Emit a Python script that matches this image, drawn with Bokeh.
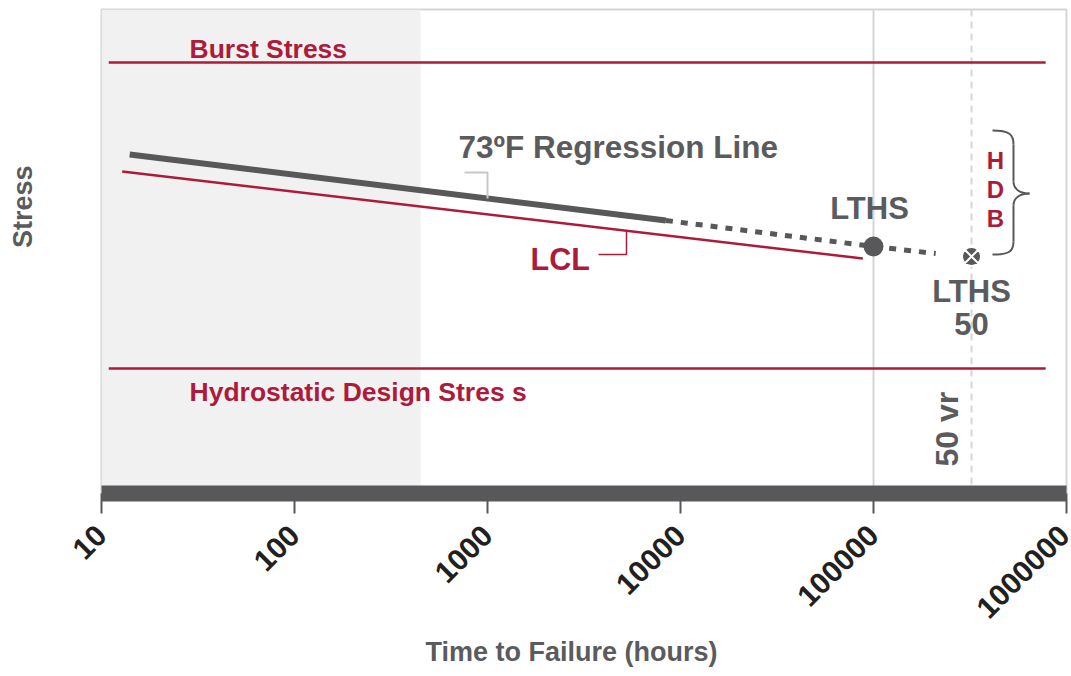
import math
import numpy as np
from bokeh.plotting import figure
from bokeh.models import (Range1d, FixedTicker, NumeralTickFormatter, CustomJSTickFormatter,
                          BoxAnnotation, Span, Label, Title)
from bokeh.embed import file_html
from bokeh.resources import INLINE

# ---------------- data ----------------
tick_hours = [10, 100, 1000, 10000, 100000, 1000000]

reg_hours = [14, 8400]            # 73F regression line (measured range)
reg_stress = [33.9, 27.3]
ext_hours = [8400, 100000, 210000]  # extrapolation
ext_stress = [27.3, 24.7, 24.0]
lcl_hours = [12.8, 88000]         # lower confidence limit
lcl_stress = [32.2, 23.5]
ref_hours = [10.9, 780000]        # extent of the reference stress lines
burst_stress = 43.1
hds_stress = 12.5
lths_hours = 100000
lths_stress = 24.7
lths50_hours = 322000
lths50_stress = 23.7
short_term_end = 450
year50_hours = 322000

# ---------------- styling ----------------
RED = "#ad1b3b"
DARK = "#58585a"
TEXTG = "#5b5b5d"
LIGHT = "#d3d6d6"
FONT = "Liberation Sans"

# helpers to place decorations (page pixel -> data)
def hx(px):
    return 10 ** (1 + (px - 101) / 193.0)

def sy(py):
    return (493 - py) / 10.0

p = figure(width=1071, height=676, x_axis_type="log",
           x_range=Range1d(10, 1e6), y_range=Range1d(0, 48.4),
           output_backend="svg", toolbar_location=None,
           min_border_left=101, min_border_right=5, min_border_top=9, min_border_bottom=183)
p.xgrid.visible = False
p.ygrid.visible = False
p.outline_line_color = LIGHT
p.outline_line_width = 2
p.background_fill_color = "white"
p.border_fill_color = "white"

# y axis: one invisible tick with an empty label, only reserves space so the title sits far left
yax = p.yaxis[0]
yax.ticker = FixedTicker(ticks=[1], minor_ticks=[])
yax.formatter = CustomJSTickFormatter(code="return ''")
yax.axis_line_color = None
yax.major_tick_line_color = "white"
yax.major_tick_line_alpha = 0
yax.minor_tick_line_color = None
yax.major_tick_in = 0
yax.major_tick_out = 60
yax.major_label_standoff = 0
yax.major_label_text_font_size = "1px"

ax = p.xaxis[0]
ax.ticker = FixedTicker(ticks=tick_hours, minor_ticks=[])
ax.formatter = NumeralTickFormatter(format="0")
ax.axis_line_color = DARK
ax.axis_line_width = 16
ax.major_tick_line_color = DARK
ax.major_tick_line_width = 2
ax.major_tick_in = 0
ax.major_tick_out = 20
ax.minor_tick_line_color = None
ax.major_label_orientation = math.pi / 4
ax.major_label_standoff = 17
ax.major_label_text_font = FONT
ax.major_label_text_font_style = "bold"
ax.major_label_text_font_size = "30px"
ax.major_label_text_color = "#231f20"

# axis titles
stress_title = Title(text="Stress", align="right", offset=156, vertical_align="top", standoff=4,
                     text_font=FONT, text_font_style="bold", text_font_size="27px",
                     text_color=TEXTG)
p.left = [yax, stress_title]
p.add_layout(Title(text="Time to Failure (hours)", align="left", offset=324, standoff=8, text_font=FONT,
                   text_font_style="bold", text_font_size="27px", text_color=TEXTG), "below")

# shaded short-term region
p.add_layout(BoxAnnotation(left=10, right=short_term_end, fill_color="#f1f1f1", fill_alpha=1,
                           line_color=None, level="underlay"))
p.add_layout(Span(location=lths_hours, dimension="height", line_color=LIGHT, line_width=2, level="underlay"))
p.add_layout(Span(location=year50_hours, dimension="height", line_color=LIGHT, line_width=2,
                  line_dash="7 5", level="underlay"))

# reference stress lines
p.line(ref_hours, [burst_stress, burst_stress], line_color=RED, line_width=2.5)
p.line(ref_hours, [hds_stress, hds_stress], line_color=RED, line_width=2.5)

# regression and LCL
p.line(lcl_hours, lcl_stress, line_color=RED, line_width=2.5)
p.line(reg_hours, reg_stress, line_color=DARK, line_width=6)
p.line(ext_hours, ext_stress, line_color=DARK, line_width=5, line_dash="7 8")

# leaders
def interp_log(h, xs, ys):
    return float(np.interp(math.log10(h), np.log10(xs), ys))

lead_h = 1000
lead_y = interp_log(lead_h, reg_hours, reg_stress)
p.line([lead_h * 10 ** (-23 / 193.0), lead_h, lead_h], [lead_y + 2.6, lead_y + 2.6, lead_y],
       line_color="#c8c8c8", line_width=2)
lcl_lead_h = 5250
lcl_lead_y = interp_log(lcl_lead_h, lcl_hours, lcl_stress)
p.line([lcl_lead_h, lcl_lead_h, lcl_lead_h * 10 ** (-28 / 193.0)],
       [lcl_lead_y, sy(254), sy(254)], line_color=RED, line_width=1.5)

# markers
p.scatter([lths_hours], [lths_stress], marker="circle", size=20, fill_color=DARK, line_color=None)
p.scatter([lths50_hours], [lths50_stress], marker="circle_x", size=19, fill_color=DARK,
          line_color="white", line_width=2)

# brace
bz = dict(line_color=DARK, line_width=2)
p.bezier(x0=[hx(992), hx(1013), hx(1029), hx(1013)],
         y0=[sy(130), sy(181), sy(193), sy(241)],
         x1=[hx(1013), hx(1029), hx(1013), hx(992)],
         y1=[sy(144), sy(193), sy(205), sy(254)],
         cx0=[hx(1009), hx(1013), hx(1020), hx(1013)],
         cy0=[sy(130), sy(189), sy(193), sy(251)],
         cx1=[hx(1013), hx(1020), hx(1013), hx(1009)],
         cy1=[sy(134), sy(193), sy(197), sy(254)], **bz)
p.segment(x0=[hx(1013), hx(1013)], y0=[sy(144), sy(205)], x1=[hx(1013), hx(1013)], y1=[sy(181), sy(241)], **bz)

# text
def lab(x, y, text, color, size, align="left", angle=0, x_offset=0, y_offset=0):
    p.add_layout(Label(x=x, y=y, text=text, text_color=color, text_font=FONT,
                       text_font_style="bold", text_font_size=f"{size}px",
                       text_align=align, text_baseline="alphabetic", angle=angle,
                       x_offset=x_offset, y_offset=y_offset))

lab(hx(189), burst_stress, "Burst Stress", RED, 26.5, y_offset=4 + 10)
lab(hx(189), hds_stress, "Hydrostatic Design Stres s", RED, 26.5, y_offset=-33 + 10)
lab(hx(458), sy(157), "73ºF Regression Line", TEXTG, 31.5, y_offset=11)
lab(hx(530), sy(269), "LCL", RED, 30.5, y_offset=11)
lab(lths_hours, sy(219), "LTHS", TEXTG, 31, align="center", x_offset=-4, y_offset=11)
lab(lths50_hours, sy(302), "LTHS", TEXTG, 31, align="center", y_offset=11)
lab(lths50_hours, sy(334), "50", TEXTG, 31, align="center", y_offset=11)
for t, yy in zip(["H", "D", "B"], [170, 199, 228]):
    lab(hx(995), sy(yy), t, RED, 24, align="center", y_offset=10)
lab(hx(958), sy(463), "50 vr", TEXTG, 32, angle=math.pi / 2, x_offset=-12, y_offset=-3)

open("out.html", "w").write(file_html(p, INLINE))
